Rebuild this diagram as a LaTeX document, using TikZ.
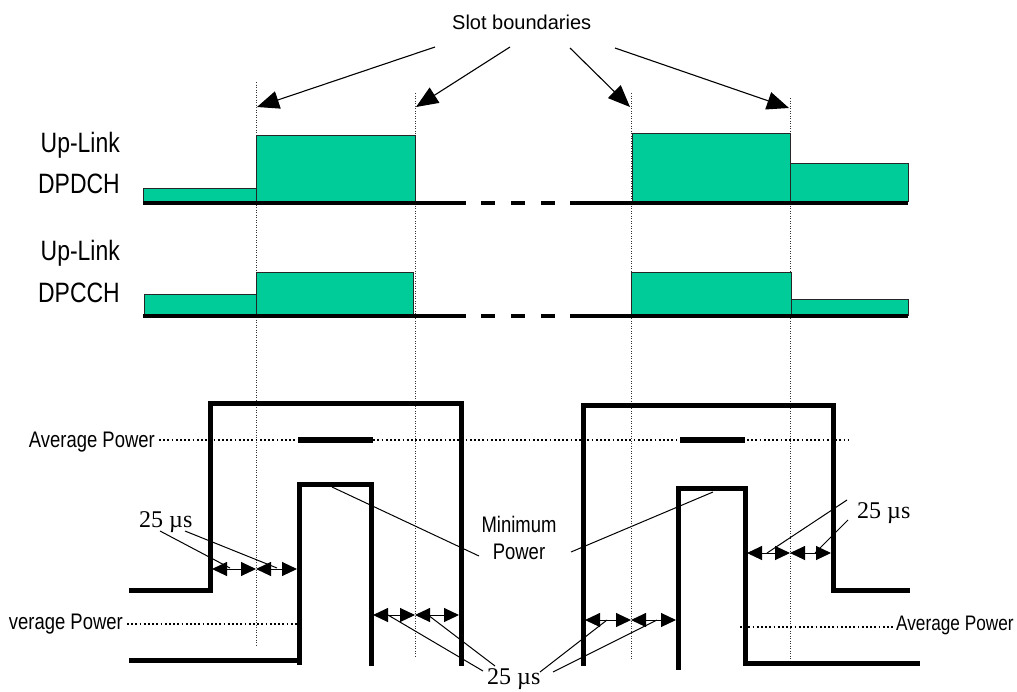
\documentclass[tikz,border=0pt]{standalone}
\usepackage{fontspec}
\setmainfont{Liberation Sans}
\newfontfamily\narrowfont[FakeStretch=0.82]{Liberation Sans}
\newfontfamily\timesfont{Liberation Serif}
\usetikzlibrary{arrows.meta}
\definecolor{bargreen}{RGB}{0,204,153}
\begin{document}
\begin{tikzpicture}[x=1pt,y=-1pt,
  bar/.style={fill=bargreen,draw=black!85,line width=1pt},
  baseln/.style={line width=3.2pt,line cap=butt},
  sig/.style={line width=5pt,line join=miter,line cap=rect},
  avgbar/.style={line width=6pt,line cap=butt},
  slotline/.style={line width=0.9pt,dash pattern=on 1pt off 1.5pt,black!80},
  avgline/.style={line width=1.7pt,dash pattern=on 1.7pt off 2.5pt},
  lead/.style={line width=1pt},
  bigarrow/.style={-{Triangle[length=22pt,width=18pt]},line width=1.1pt},
  dbl/.style={{Triangle[length=15pt,width=14pt]}-{Triangle[length=15pt,width=14pt]},line width=1pt},
  chlbl/.style={font=\narrowfont\fontsize{28}{30}\selectfont,inner sep=0pt},
  lbl/.style={font=\narrowfont\fontsize{22.5}{27}\selectfont,inner sep=0pt},
  rlbl/.style={font=\narrowfont\fontsize{21}{24}\selectfont,inner sep=0pt},
  slbl/.style={font=\fontsize{20}{22}\selectfont,inner sep=0pt},
  us/.style={font=\timesfont\fontsize{24}{26}\selectfont,inner sep=0pt}
]
\useasboundingbox (0,0) rectangle (1017,691);

% ---------- slot boundary lines ----------
\draw[slotline] (256,82) -- (256,647);
\draw[slotline] (415,93) -- (415,658);
\draw[slotline] (631,93) -- (631,660);
\draw[slotline] (790,98) -- (790,661);

% ---------- title and arrows ----------
\node[slbl,anchor=base west] (slot) at (452,29) {Slot boundaries};
\coordinate (s1) at (435,47);
\coordinate (s2) at (510,47);
\coordinate (s3) at (570,48);
\coordinate (s4) at (615,48);
\coordinate (t1) at (257,107);
\coordinate (t2) at (416,107);
\coordinate (t3) at (630,107);
\coordinate (t4) at (789,108);
\draw[bigarrow] (s1) -- (t1);
\draw[bigarrow] (s2) -- (t2);
\draw[bigarrow] (s3) -- (t3);
\draw[bigarrow] (s4) -- (t4);

% ---------- DPDCH ----------
\node[chlbl,anchor=base east] (ul1) at (120,152) {Up-Link};
\node[chlbl,anchor=base east] (dpd) at (120,193) {DPDCH};
\draw[bar] (143,188) rectangle (256,203);
\draw[bar] (256,135) rectangle (415,203);
\draw[bar] (632,133) rectangle (790,202);
\draw[bar] (790,163) rectangle (908,201);
\draw[baseln] (143,203) -- (466,203);
\draw[baseln,dash pattern=on 14pt off 16pt] (481,203) -- (555,203);
\draw[baseln] (570,203) -- (908,203);

% ---------- DPCCH ----------
\node[chlbl,anchor=base east] (ul2) at (120,260) {Up-Link};
\node[chlbl,anchor=base east] (dpc) at (120,302) {DPCCH};
\draw[bar] (144,294) rectangle (256,316);
\draw[bar] (256,272) rectangle (413,314);
\draw[bar] (631,272) rectangle (791,315);
\draw[bar] (791,299) rectangle (908,315);
\draw[baseln] (143,316) -- (466,316);
\draw[baseln,dash pattern=on 14pt off 16pt] (481,316) -- (555,316);
\draw[baseln] (570,316) -- (908,316);

% ---------- average power lines ----------
\node[lbl,anchor=base east] (avgA) at (155,447) {Average Power};
\coordinate (avgAend) at (848,440);
\draw[avgline] (avgA.east |- 0,440) ++(4,0) -- (avgAend);
\node[lbl,anchor=base east] (avgB) at (123,629) {verage Power};
\coordinate (avgBend) at (297,624);
\draw[avgline] (avgB.east |- 0,624) ++(4,0) -- (avgBend);
\node[rlbl,anchor=base west] (avgC) at (896,630) {Average Power};
\coordinate (avgCstart) at (740,627);
\draw[avgline] (avgCstart) -- ([xshift=-2pt]avgC.west |- 0,627);

% ---------- power envelopes ----------
\draw[sig] (131,590) -- (210,590) -- (210,403) -- (461,403) -- (461,663);
\draw[sig] (131,660) -- (294,660);
\draw[sig] (299,662) -- (299,484) -- (371,484) -- (371,663);
\draw[avgbar] (298,440) -- (373,440);

\draw[sig] (583,663) -- (583,405) -- (833,405) -- (833,590) -- (907,590);
\draw[sig] (678,667) -- (678,488) -- (745,488) -- (745,663) -- (917,663);
\draw[avgbar] (680,440) -- (745,440);

% ---------- minimum power ----------
\node[lbl,align=center,anchor=base] (minp) at (519,559) {Minimum\\Power};
\coordinate (m1) at (332,487);
\coordinate (m2) at (713,492);
\draw[lead] (m1) -- (479,556);
\draw[lead] (571,552) -- (m2);

% ---------- 25 us markers ----------
% left upper
\coordinate (a1) at (212,569);
\coordinate (a2) at (256,569);
\coordinate (a3) at (297,569);
\draw[dbl] (a1) -- (a2);
\draw[dbl] (a2) -- (a3);
\node[us,anchor=base west] (usA) at (139,527) {25 µs};
\draw[lead] (160,531) -- (230,568);
\draw[lead] (185,531) -- (277,568);

% left lower
\coordinate (b1) at (373,615);
\coordinate (b2) at (415,615);
\coordinate (b3) at (459,615);
\draw[dbl] (b1) -- (b2);
\draw[dbl] (b2) -- (b3);
\node[us,anchor=base west] (usB) at (487,684) {25 µs};
\draw[lead] (388,615) -- (483,671);
\draw[lead] (428,615) -- (495,666);

% right upper
\coordinate (c1) at (747,553);
\coordinate (c2) at (790,553);
\coordinate (c3) at (831,553);
\draw[dbl] (c1) -- (c2);
\draw[dbl] (c2) -- (c3);
\node[us,anchor=base west] (usC) at (857,518) {25 µs};
\draw[lead] (767,553) -- (847,500);
\draw[lead] (815,553) -- (848,520);

% right lower
\coordinate (d1) at (585,620);
\coordinate (d2) at (631,620);
\coordinate (d3) at (676,620);
\draw[dbl] (d1) -- (d2);
\draw[dbl] (d2) -- (d3);
\draw[lead] (607,620) -- (540,672);
\draw[lead] (657,620) -- (553,672);
\end{tikzpicture}
\end{document}
